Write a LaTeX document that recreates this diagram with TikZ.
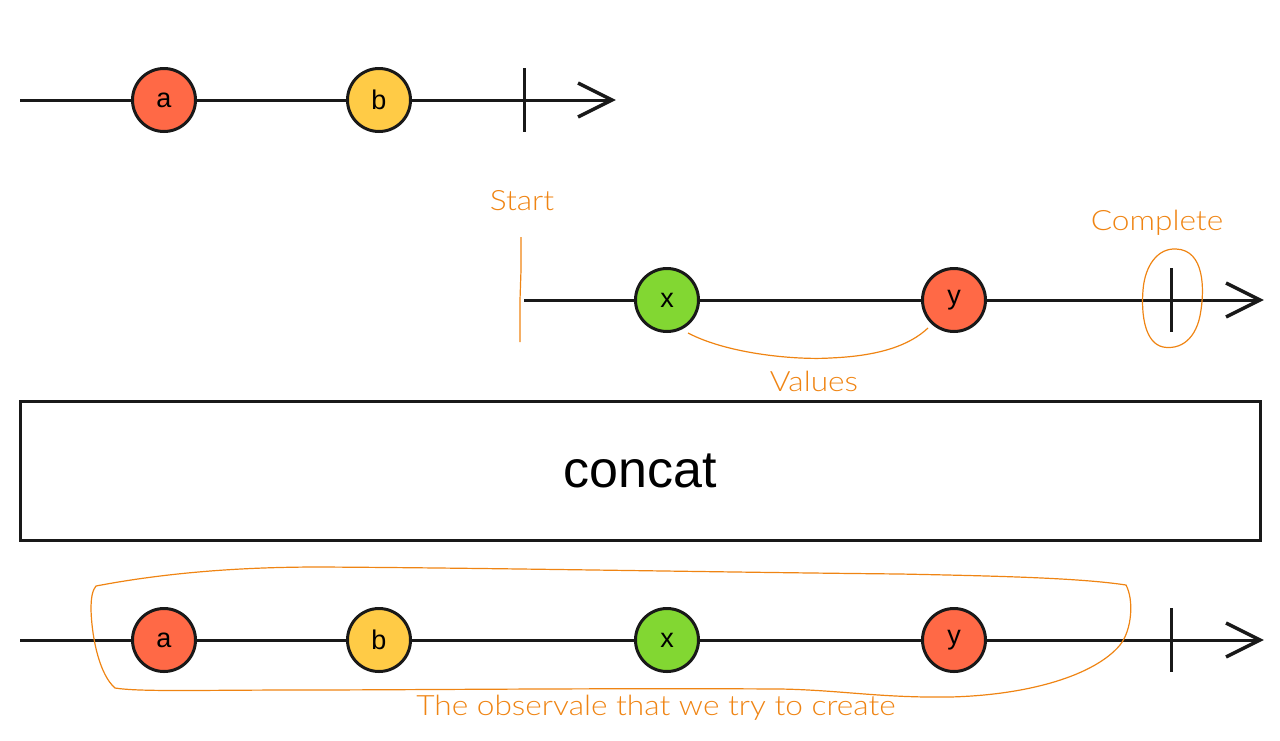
\documentclass[tikz,border=0pt]{standalone}
\usepackage{fontspec}
\setmainfont{Liberation Sans}
\newfontfamily\labelfont{Lato Light}[FakeStretch=1.13]
\usetikzlibrary{calc}
\definecolor{cred}{HTML}{FF6946}
\definecolor{cyel}{HTML}{FFCB46}
\definecolor{cgrn}{HTML}{82D732}
\definecolor{corg}{HTML}{EF8413}
\tikzset{
  marble/.style={circle, draw=black!90, line width=3pt, minimum size=63pt, inner sep=0pt, font=\fontsize{27}{29}\selectfont},
  axis/.style={line width=3pt, draw=black!90},
  chev/.style={line width=3.5pt, draw=black!90, line cap=butt, line join=miter},
  note/.style={text=corg, font=\labelfont\fontsize{28}{30}\selectfont, inner sep=0pt},
  hand/.style={draw=corg, line width=1.2pt},
}
\begin{document}
\begin{tikzpicture}[x=1pt,y=-1pt]
\useasboundingbox (0,0) rectangle (1280,740);
% Row 1
\coordinate (s1) at (20,100);
\coordinate (t1) at (524,100);
\coordinate (e1) at (612,100);
\node[marble, fill=cred] (a1) at (164,100) {a};
\node[marble, fill=cyel] (b1) at (379,100) {b};
\draw[axis] (s1) -- (a1);
\draw[axis] (a1) -- (b1);
\draw[axis] (b1) -- (e1);
\draw[axis] ($(t1)+(0,-32)$) -- ($(t1)+(0,32)$);
\draw[chev] ($(e1)+(-34,-17)$) -- (e1) -- ($(e1)+(-34,17)$);
% Row 2
\coordinate (s2) at (524,300);
\coordinate (t2) at (1171,300);
\coordinate (e2) at (1260,300);
\node[marble, fill=cgrn] (x2) at (667,300) {x};
\node[marble, fill=cred] (y2) at (954,300) {y};
\draw[axis] (s2) -- (x2);
\draw[axis] (x2) -- (y2);
\draw[axis] (y2) -- (e2);
\draw[axis] ($(t2)+(0,-32)$) -- ($(t2)+(0,32)$);
\draw[chev] ($(e2)+(-34,-17)$) -- (e2) -- ($(e2)+(-34,17)$);
% annotations row 2
\node[note] (start) at (522,201) {Start};
\coordinate (sl1) at (521,237);
\coordinate (sl2) at (520,342);
\draw[hand] (sl1) -- (521,270) -- (520,300) -- (sl2);
\node[note] (complete) at (1157,223) {Complete};
\draw[hand] (1176,249) .. controls (1205,250) and (1204,290) .. (1201,310)
  .. controls (1197,340) and (1180,350) .. (1163,347)
  .. controls (1145,343) and (1141,315) .. (1143,290)
  .. controls (1145,265) and (1158,248) .. (1176,249);
\coordinate (v1) at (688,333);
\coordinate (v2) at (928,328);
\draw[hand] (v1) .. controls (730,355) and (800,360) .. (830,358)
  .. controls (880,356) and (910,345) .. (v2);
\node[note] (values) at (814,381) {Values};
% Operator box
\node[draw=black!90, line width=3pt, minimum width=1240pt, minimum height=139pt, inner sep=0pt, font=\fontsize{52}{56}\selectfont] (op) at (640,470.5) {concat};
% Row 3
\coordinate (s3) at (20,640);
\coordinate (t3) at (1171,640);
\coordinate (e3) at (1260,640);
\node[marble, fill=cred] (a3) at (164,640) {a};
\node[marble, fill=cyel] (b3) at (379,640) {b};
\node[marble, fill=cgrn] (x3) at (667,640) {x};
\node[marble, fill=cred] (y3) at (954,640) {y};
\draw[axis] (s3) -- (a3);
\draw[axis] (a3) -- (b3);
\draw[axis] (b3) -- (x3);
\draw[axis] (x3) -- (y3);
\draw[axis] (y3) -- (e3);
\draw[axis] ($(t3)+(0,-32)$) -- ($(t3)+(0,32)$);
\draw[chev] ($(e3)+(-34,-17)$) -- (e3) -- ($(e3)+(-34,17)$);
% lasso
\draw[hand] (96,586) .. controls (180,570) and (260,567) .. (320,567)
  .. controls (500,568) and (700,572) .. (900,574)
  .. controls (1000,576) and (1080,578) .. (1126,585)
  .. controls (1134,600) and (1132,630) .. (1120,645)
  .. controls (1095,675) and (1030,695) .. (950,697)
  .. controls (880,698) and (840,690) .. (780,689)
  .. controls (600,688) and (400,690) .. (300,690)
  .. controls (200,690) and (140,692) .. (115,688)
  .. controls (100,675) and (92,640) .. (91,610)
  .. controls (91,595) and (93,590) .. (96,586);
\node[note] (result) at (656,708) {The observale that we try to create};
\end{tikzpicture}
\end{document}
